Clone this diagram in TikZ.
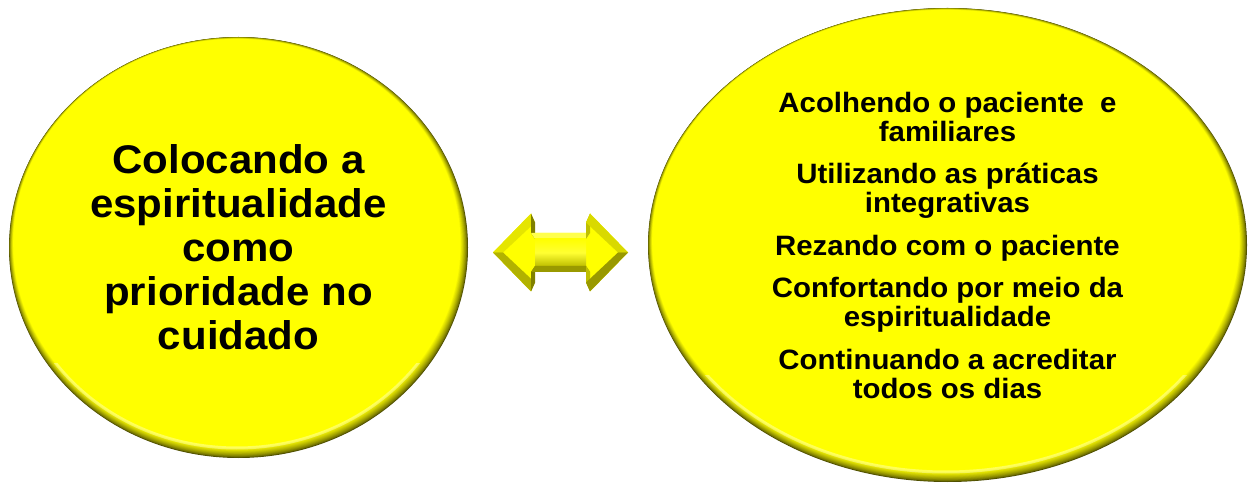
\documentclass[tikz,border=0pt]{standalone}
\usepackage{fontspec}
\setmainfont{Liberation Sans}[FakeStretch=1.05]
\usetikzlibrary{shapes.geometric,calc}
\pgfdeclarelayer{bg}
\pgfsetlayers{bg,main}
\definecolor{bright}{HTML}{FFFF00}
\newcommand{\bevelfill}[3]{%
  \foreach \i in {0,...,14}{%
    \pgfmathsetmacro\c{30+70*(\i/14)^0.7}%
    \pgfmathsetmacro\rxx{#2-0.21*\i}%
    \pgfmathsetmacro\ryy{#3-0.21*\i}%
    \fill[bright!\c!black] ($(#1.center)+(-0.12*\i,-0.28*\i)$) ellipse [x radius=\rxx pt, y radius=\ryy pt];
  }%
  \begin{scope}
    \clip ($(#1.center)+(-#2 pt,-#3 pt)$) rectangle ($(#1.center)+(#2 pt,-0.55*#3 pt)$);
    \draw[white, opacity=0.35, line width=1.5pt] ($(#1.center)+(-1.6,-4)$) ellipse [x radius=#2 pt-3pt, y radius=#3 pt-3pt];
  \end{scope}%
}
\begin{document}
\begin{tikzpicture}[x=0.5pt,y=-0.5pt,
  bubble/.style={ellipse, inner sep=0pt, align=center, text=black},
  bigtxt/.style={font=\fontsize{20}{22}\selectfont\bfseries},
  smalltxt/.style={font=\fontsize{14}{14.5}\selectfont\bfseries},
]
\useasboundingbox (0,0) rectangle (1254,486);

\node[bubble, bigtxt, minimum width=229.5pt, minimum height=210.5pt] (L) at (238.5,247.5)
  {Colocando a\\espiritualidade\\como\\prioridade no\\cuidado};
\node[bubble, smalltxt, minimum width=299.5pt, minimum height=237pt] (R) at (947.5,245)
  {Acolhendo o paciente\ \ e\\familiares\\[6.75pt]
   Utilizando as práticas\\integrativas\\[6.75pt]
   Rezando com o paciente\\[6.75pt]
   Confortando por meio da\\espiritualidade\\[6.75pt]
   Continuando a acreditar\\todos os dias};

\begin{pgfonlayer}{bg}
  \bevelfill{L}{114.75}{105.25}
  \bevelfill{R}{149.75}{118.5}
\end{pgfonlayer}

% double block arrow
\coordinate (A) at (560.5,252.5);
\begin{scope}[shift={(A)}]
  \fill[bright] (-67.5,0) -- (-29.5,-39) -- (-29.5,-19.5) -- (29.5,-19.5) -- (29.5,-39) -- (67.5,0)
     -- (29.5,39) -- (29.5,19.5) -- (-29.5,19.5) -- (-29.5,39) -- cycle;
  % left head faces
  \fill[bright!90!black] (-67.5,0) -- (-29.5,-39) -- (-25.5,-30) -- (-57.5,0) -- cycle;
  \fill[bright!70!black] (-67.5,0) -- (-29.5,39) -- (-25.5,30) -- (-57.5,0) -- cycle;
  \fill[bright!50!black] (-29.5,-39) -- (-29.5,-19.5) -- (-25.5,-13.5) -- (-25.5,-30) -- cycle;
  \fill[bright!50!black] (-29.5,39) -- (-29.5,19.5) -- (-25.5,13.5) -- (-25.5,30) -- cycle;
  % shaft faces
  \fill[bright!70!white] (-29.5,-19.5) -- (29.5,-19.5) -- (25.5,-13.5) -- (-25.5,-13.5) -- cycle;
  \shade[top color=bright, bottom color=bright!75!black, middle color=bright!80!white]
     (-25.5,-13.5) rectangle (25.5,13.5);
  \fill[bright!60!black] (-29.5,19.5) -- (29.5,19.5) -- (25.5,13.5) -- (-25.5,13.5) -- cycle;
  % right head faces
  \fill[bright!75!black] (29.5,-39) -- (29.5,-19.5) -- (25.5,-13.5) -- (25.5,-30) -- cycle;
  \fill[bright!75!black] (29.5,39) -- (29.5,19.5) -- (25.5,13.5) -- (25.5,30) -- cycle;
  \fill[bright!85!black] (29.5,-39) -- (67.5,0) -- (57.5,0) -- (25.5,-30) -- cycle;
  \fill[bright!60!black] (67.5,0) -- (29.5,39) -- (25.5,30) -- (57.5,0) -- cycle;
\end{scope}
\end{tikzpicture}
\end{document}
